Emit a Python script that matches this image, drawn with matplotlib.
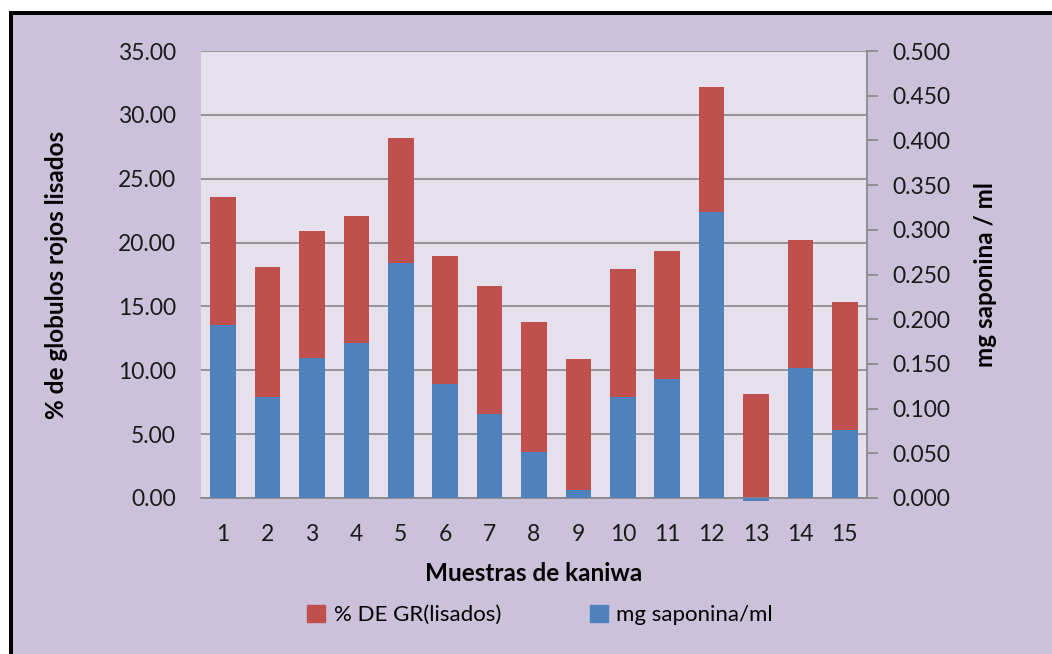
"""
Hemolisis vs saponina en muestras de kaniwa
"""
import matplotlib
matplotlib.use('Agg')
import matplotlib.pyplot as plt
from matplotlib.patches import Rectangle, Patch
import numpy as np

# Datos
muestras = ['1', '2', '3', '4', '5', '6', '7', '8', '9', '10', '11', '12', '13', '14', '15']
gr_lisados = [23.57, 18.09, 20.90, 22.08, 28.19, 18.95, 16.60, 13.78, 10.88,
              17.93, 19.34, 32.18, 8.14, 20.20, 15.35]  # % DE GR(lisados)
saponina = [0.194, 0.113, 0.157, 0.173, 0.263, 0.128, 0.094, 0.051, 0.009,
            0.113, 0.133, 0.320, -0.003, 0.145, 0.076]  # mg saponina/ml

ticks_izq = [0, 5, 10, 15, 20, 25, 30, 35]
ticks_der = [0, 0.05, 0.1, 0.15, 0.2, 0.25, 0.3, 0.35, 0.4, 0.45, 0.5]

rojo = '#C0504D'
azul = '#4F81BD'
lila = '#CCC1DA'
lila_claro = '#E5E0EC'
gris = '#868686'

plt.rcParams['font.family'] = ['Lato', 'DejaVu Sans']

W, H = 1052, 654
fig = plt.figure(figsize=(W / 100, H / 100), dpi=100, facecolor='white')

# marco negro + fondo lila
fig.patches.append(Rectangle((9 / W, 0), 1, (H - 11) / H, transform=fig.transFigure,
                             facecolor='black', edgecolor='none', zorder=-2))
fig.patches.append(Rectangle((13 / W, 0), 1, (H - 15) / H, transform=fig.transFigure,
                             facecolor=lila, edgecolor='none', zorder=-1))

ax1 = fig.add_axes([201 / W, (H - 498) / H, (867 - 201) / W, (498 - 51) / H])
ax1.set_facecolor(lila_claro)
ax2 = ax1.twinx()

x = np.arange(len(muestras))
ancho = 0.58

ax1.bar(x, gr_lisados, ancho, color=rojo, zorder=2)
ax2.bar(x, saponina, ancho, color=azul, zorder=3, clip_on=False)

ax1.set_xlim(-0.5, len(muestras) - 0.5)
ax1.set_ylim(0, 35)
ax2.set_ylim(0, 0.5)
ax1.set_yticks(ticks_izq)
ax1.set_yticklabels(['%.2f' % t for t in ticks_izq])
ax2.set_yticks(ticks_der)
ax2.set_yticklabels(['%.3f' % t for t in ticks_der])
ax1.set_xticks(x)
ax1.set_xticklabels(muestras)

ax1.grid(axis='y', color=gris, lw=1.2, zorder=1)
ax1.set_axisbelow(True)

for ax in (ax1, ax2):
    for s in ax.spines.values():
        s.set_visible(False)
ax2.spines['right'].set_visible(True)
ax2.spines['right'].set_color(gris)
ax2.spines['right'].set_linewidth(1.2)
ax1.spines['bottom'].set_visible(True)
ax1.spines['bottom'].set_color(gris)
ax1.spines['bottom'].set_linewidth(1.2)

ax1.tick_params(axis='y', length=0, pad=18, labelsize=16.5, colors='#1a1a1a')
ax1.tick_params(axis='x', length=0, pad=19, labelsize=16.5, colors='#1a1a1a')
ax2.tick_params(axis='y', length=8, width=1.2, color=gris, pad=10, labelsize=16.5,
                labelcolor='#1a1a1a')

ax1.set_ylabel('% de globulos rojos lisados', fontsize=17.5, fontweight='bold', labelpad=36)
ax2.set_ylabel('mg saponina / ml', fontsize=17.5, fontweight='bold', labelpad=17)
ax1.set_xlabel('Muestras de kaniwa', fontsize=17.5, fontweight='bold', labelpad=12)

leyenda = [Patch(color=rojo, label='% DE GR(lisados)'),
           Patch(color=azul, label='mg saponina/ml')]
fig.legend(handles=leyenda, loc='center', bbox_to_anchor=(540 / W, (H - 615) / H),
           ncol=2, frameon=False, fontsize=16, handlelength=0.8, handleheight=0.8,
           columnspacing=4.0, handletextpad=0.4)

fig.savefig('out.png', dpi=100, facecolor=fig.get_facecolor())
